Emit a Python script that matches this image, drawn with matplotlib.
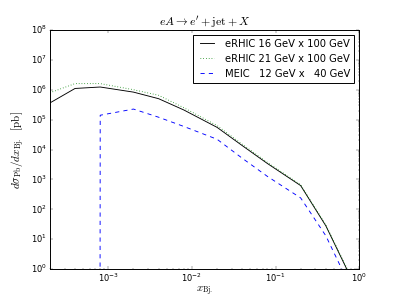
import matplotlib
matplotlib.use('Agg')
import matplotlib.pyplot as plt
import numpy as np

# x_Bj bin points
x_bj = [2e-4, 4e-4, 8e-4, 2e-3, 4e-3, 8e-3, 2e-2, 4e-2, 8e-2, 0.2, 0.4, 0.8]

# dsigma/dx_Bj [pb]
erhic_16 = [3.6e5, 1.1e6, 1.23e6, 8.3e5, 5.0e5, 2.1e5, 5.5e4, 1.35e4, 3.4e3, 6.2e2, 2.8e1, 0.51]
erhic_21 = [7.9e5, 1.6e6, 1.6e6, 1.0e6, 6.5e5, 2.5e5, 6.3e4, 1.5e4, 3.7e3, 6.6e2, 3.0e1, 0.56]
meic_12 = [0.0, 0.0, 1.4e5, 2.25e5, 1.2e5, 5.9e4, 2.2e4, 5.1e3, 1.26e3, 2.4e2, 1.3e1, 0.23]

labels = ['eRHIC 16 GeV x 100 GeV',
          'eRHIC 21 GeV x 100 GeV',
          'MEIC   12 GeV x   40 GeV']

plt.style.use('classic')
plt.rcParams['axes.linewidth'] = 1.4

fig, ax = plt.subplots(figsize=(7.98, 5.98), dpi=50)

ax.plot(x_bj, erhic_16, 'k-', lw=1.3, label=labels[0])
ax.plot(x_bj, erhic_21, 'g:', lw=1.3, label=labels[1])
ax.plot(x_bj, meic_12, 'b--', lw=1.3, label=labels[2])

ax.set_xscale('log')
ax.set_yscale('log')
ax.set_xlim(2e-4, 1.0)
ax.set_ylim(1.0, 1e8)

ax.set_title(r'$eA \rightarrow e^{\prime} + {\rm jet} + X$', fontsize=17)
ax.set_xlabel(r'$x_{\rm Bj.}$', fontsize=15.5, labelpad=0)
ax.set_ylabel(r'$d\sigma_{\rm Pb}/dx_{\rm Bj.}\ \ [{\rm pb}]$', fontsize=16)

leg = ax.legend(loc='upper right')
leg.get_frame().set_linewidth(1.4)

fig.savefig('out.png', dpi=50, facecolor='white')
